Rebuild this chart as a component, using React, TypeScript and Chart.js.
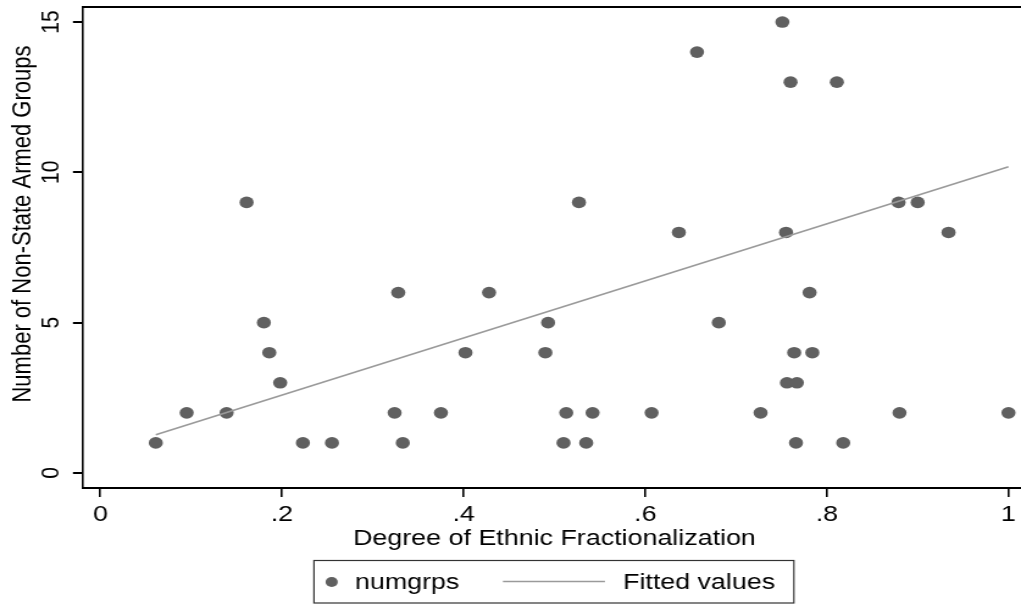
import React, { useEffect, useRef } from "react";
import { Chart, registerables } from "chart.js";

Chart.register(...registerables);

// Data
const fracX: number[] = [
  0.061, 0.095, 0.139, 0.161, 0.180, 0.186, 0.198, 0.223, 0.255, 0.324, 0.328, 0.333,
  0.375, 0.402, 0.428, 0.490, 0.493, 0.510, 0.513, 0.527, 0.535, 0.542, 0.607, 0.637,
  0.657, 0.681, 0.727, 0.751, 0.755, 0.756, 0.760, 0.764, 0.766, 0.767, 0.781, 0.784,
  0.811, 0.818, 0.879, 0.880, 0.900, 0.934, 1.0,
];
const numgrps: number[] = [
  1, 2, 2, 9, 5, 4, 3, 1, 1, 2, 6, 1,
  2, 4, 6, 4, 5, 1, 2, 9, 1, 2, 2, 8,
  14, 5, 2, 15, 8, 3, 13, 4, 1, 3, 6, 4,
  13, 1, 9, 2, 9, 8, 2,
];
const fitX: number[] = [0.061, 1.0];
const fitY: number[] = [1.27, 10.19];

const xTickValues: number[] = [0, 0.2, 0.4, 0.6, 0.8, 1];
const xTickLabels: string[] = ["0", ".2", ".4", ".6", ".8", "1"];
const yTickValues: number[] = [0, 5, 10, 15];
const yTickLabels: string[] = ["0", "5", "10", "15"];

const xTitle = "Degree of Ethnic Fractionalization";
const yTitle = "Number of Non-State Armed Groups";
const legendLabels: string[] = ["numgrps", "Fitted values"];

const STRETCH = 1021 / 837;
const W = 837;
const H = 604;
const FONT = "'Liberation Sans', Arial, Helvetica, sans-serif";
const DOT = "#606060";
const LINE = "#9a9a9a";

const zeroPad = (s: any) => {
  s.paddingLeft = 0;
  s.paddingRight = 0;
  s.paddingTop = 0;
  s.paddingBottom = 0;
};

const decorPlugin = {
  id: "decor",
  afterDraw(chart: any) {
    const ctx = chart.ctx as CanvasRenderingContext2D;
    const ca = chart.chartArea;
    const xs = chart.scales.x;
    ctx.save();
    // top frame line
    ctx.strokeStyle = "#000";
    ctx.lineWidth = 2;
    ctx.beginPath();
    ctx.moveTo(ca.left - 0.8, ca.top);
    ctx.lineTo(W, ca.top);
    ctx.stroke();

    ctx.fillStyle = "#000";
    ctx.font = `22px ${FONT}`;
    // x title
    ctx.textAlign = "center";
    ctx.textBaseline = "alphabetic";
    const cx = (xs.getPixelForValue(0) + xs.getPixelForValue(1)) / 2;
    ctx.fillText(xTitle, cx, 545);
    // y title
    ctx.save();
    ctx.translate(25.3, 224);
    ctx.rotate(-Math.PI / 2);
    ctx.fillText(yTitle, 0, 0);
    ctx.restore();

    // legend
    const bx0 = 257.4, bx1 = 650.8, by0 = 560.5, by1 = 603;
    ctx.strokeStyle = "#333";
    ctx.lineWidth = 1.2;
    ctx.strokeRect(bx0, by0, bx1 - bx0, by1 - by0);
    ctx.fillStyle = DOT;
    ctx.beginPath();
    ctx.arc(271.9, 582, 5, 0, Math.PI * 2);
    ctx.fill();
    ctx.strokeStyle = LINE;
    ctx.lineWidth = 1.6;
    ctx.beginPath();
    ctx.moveTo(412.3, 581.5);
    ctx.lineTo(495.9, 581.5);
    ctx.stroke();
    ctx.fillStyle = "#000";
    ctx.textAlign = "left";
    ctx.fillText(legendLabels[0], 291, 589);
    ctx.fillText(legendLabels[1], 510.7, 589);
    ctx.restore();
  },
};

export default function App() {
  const ref = useRef<HTMLCanvasElement | null>(null);
  useEffect(() => {
    if (!ref.current) return;
    const chart = new Chart(ref.current, {
      type: "scatter",
      data: {
        datasets: [
          {
            type: "line",
            label: legendLabels[1],
            data: fitX.map((x, i) => ({ x, y: fitY[i] })),
            borderColor: LINE,
            borderWidth: 1.6,
            pointRadius: 0,
            fill: false,
            showLine: true,
            order: 0,
          } as any,
          {
            type: "scatter",
            label: legendLabels[0],
            data: fracX.map((x, i) => ({ x, y: numgrps[i] })),
            backgroundColor: DOT,
            borderWidth: 0,
            pointRadius: 5.8,
            pointHoverRadius: 5.8,
            order: 1,
          } as any,
        ],
      },
      options: {
        responsive: false,
        animation: false,
        devicePixelRatio: 1,
        events: [],
        layout: { autoPadding: false, padding: { top: 7, right: 0, left: 0, bottom: 0 } },
        plugins: { legend: { display: false }, tooltip: { enabled: false } },
        scales: {
          x: {
            type: "linear",
            min: -0.0192,
            max: 1.0138,
            afterBuildTicks: (s: any) => {
              s.ticks = xTickValues.map((v) => ({ value: v }));
            },
            afterFit: (s: any) => {
              s.height = 116;
              zeroPad(s);
            },
            ticks: {
              autoSkip: false,
              maxRotation: 0,
              minRotation: 0,
              padding: 5,
              color: "#000",
              font: { family: FONT, size: 22 },
              callback: (v: any) => xTickLabels[xTickValues.indexOf(Number(v))] ?? String(v),
            },
            grid: { drawOnChartArea: false, drawTicks: true, tickLength: 9, color: "#000", lineWidth: 1.6 },
            border: { display: true, color: "#000", width: 2 },
          },
          y: {
            type: "linear",
            min: -0.5,
            max: 15.5,
            afterBuildTicks: (s: any) => {
              s.ticks = yTickValues.map((v) => ({ value: v }));
            },
            afterFit: (s: any) => {
              s.width = 68;
              zeroPad(s);
            },
            ticks: {
              autoSkip: false,
              minRotation: 90,
              maxRotation: 90,
              crossAlign: "center",
              padding: 5.5,
              color: "#000",
              font: { family: FONT, size: 21 },
              callback: (v: any) => yTickLabels[yTickValues.indexOf(Number(v))] ?? String(v),
            },
            grid: { drawOnChartArea: false, drawTicks: true, tickLength: 8.2, color: "#000", lineWidth: 2 },
            border: { display: true, color: "#000", width: 1.6 },
          },
        },
      } as any,
      plugins: [decorPlugin],
    });
    return () => chart.destroy();
  }, []);
  return (
    <div style={{ position: "fixed", left: 0, top: 0, width: 1021, height: 604, overflow: "hidden", background: "#fff" }}>
      <canvas
        ref={ref}
        width={W}
        height={H}
        style={{
          position: "absolute",
          left: 0,
          top: 0,
          width: `${W}px`,
          height: `${H}px`,
          transform: `scaleX(${STRETCH})`,
          transformOrigin: "0 0",
          display: "block",
        }}
      />
    </div>
  );
}
